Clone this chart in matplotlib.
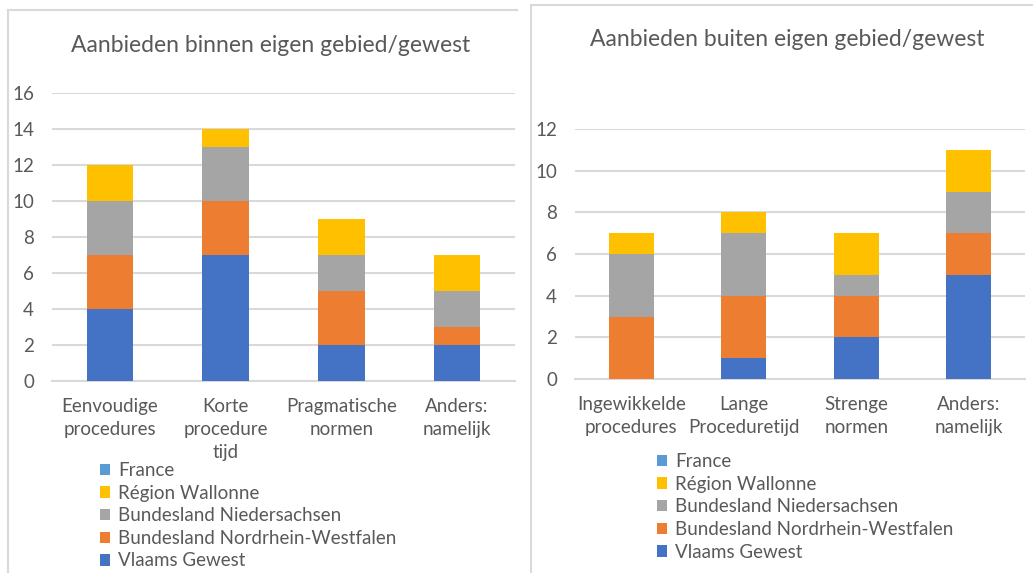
import matplotlib
matplotlib.use("Agg")
import matplotlib.pyplot as plt
from matplotlib.patches import Patch
from matplotlib.lines import Line2D
import numpy as np

plt.rcParams['font.family'] = ['Lato', 'DejaVu Sans']

series = ["Vlaams Gewest", "Bundesland Nordrhein-Westfalen", "Bundesland Niedersachsen",
          "Région Wallonne", "France"]
colors = ["#4472C4", "#ED7D31", "#A5A5A5", "#FFC000", "#5B9BD5"]

left_title = "Aanbieden binnen eigen gebied/gewest"
left_cats = ["Eenvoudige\nprocedures", "Korte\nprocedure\ntijd", "Pragmatische\nnormen", "Anders:\nnamelijk"]
left_vlaams = [4, 7, 2, 2]
left_nrw = [3, 3, 3, 1]
left_nieders = [3, 3, 2, 2]
left_wallonne = [2, 1, 2, 2]
left_france = [0, 0, 0, 0]

right_title = "Aanbieden buiten eigen gebied/gewest"
right_cats = ["Ingewikkelde\nprocedures", "Lange\nProceduretijd", "Strenge\nnormen", "Anders:\nnamelijk"]
right_vlaams = [0, 1, 2, 5]
right_nrw = [3, 3, 2, 2]
right_nieders = [3, 3, 1, 2]
right_wallonne = [1, 1, 2, 2]
right_france = [0, 0, 0, 0]

W, H = 1033, 573
fig = plt.figure(figsize=(W / 100, H / 100), dpi=100)
TXT = "#595959"
GRID = "#D9D9D9"

def fx(px):
    return px / W

def fy(py):
    return 1 - py / H

# panel borders
fig.add_artist(Line2D([fx(8), fx(517)], [fy(10), fy(10)], color=GRID, lw=1.5))
fig.add_artist(Line2D([fx(8), fx(8)], [fy(10), fy(573)], color=GRID, lw=1.5))
fig.add_artist(Line2D([fx(531), fx(1033)], [fy(5), fy(5)], color=GRID, lw=1.5))
fig.add_artist(Line2D([fx(531), fx(531)], [fy(5), fy(573)], color=GRID, lw=1.5))


def panel(x0, x1, ytop, ybot, ymax, cats, data, title, title_xy, legend_xy, ypad, xpad):
    ax = fig.add_axes([fx(x0), fy(ybot), fx(x1) - fx(x0), fy(ytop) - fy(ybot)])
    x = np.arange(len(cats))
    bottom = np.zeros(len(cats))
    for vals, c in zip(data, colors):
        v = np.array(vals, dtype=float)
        ax.bar(x, v, bottom=bottom, width=0.4, color=c, zorder=3)
        bottom += v
    ax.set_xlim(-0.5, len(cats) - 0.5)
    ax.set_ylim(0, ymax)
    ax.set_yticks(np.arange(0, ymax + 1, 2))
    ax.yaxis.grid(True, color=GRID, lw=1.5, zorder=0)
    ax.set_axisbelow(True)
    for s in ["top", "right", "left"]:
        ax.spines[s].set_visible(False)
    ax.spines["bottom"].set_color(GRID)
    ax.spines["bottom"].set_linewidth(1.5)
    ax.set_xticks(x)
    ax.set_xticklabels(cats)
    for t in ax.get_xticklabels():
        t.set_linespacing(1.45)
    ax.tick_params(axis="both", length=0, colors=TXT, labelsize=13.5)
    ax.tick_params(axis="y", pad=ypad)
    ax.tick_params(axis="x", pad=xpad)
    fig.text(fx(title_xy[0]), fy(title_xy[1]), title, ha="center", va="center",
             fontsize=16.5, color=TXT)
    handles = [Patch(facecolor=c) for c in colors][::-1]
    labels = series[::-1]
    fig.legend(handles, labels, loc="upper left",
               bbox_to_anchor=(fx(legend_xy[0]), fy(legend_xy[1])),
               frameon=False, fontsize=13.5, labelcolor=TXT,
               handlelength=0.55, handleheight=0.55, handletextpad=0.4,
               labelspacing=0.3, borderpad=0, borderaxespad=0)
    return ax

panel(52, 515, 93, 381, 16, left_cats,
      [left_vlaams, left_nrw, left_nieders, left_wallonne, left_france],
      left_title, (271, 45), (100, 462), 13, 12)
panel(575, 1025, 129, 379, 12, right_cats,
      [right_vlaams, right_nrw, right_nieders, right_wallonne, right_france],
      right_title, (787, 40), (657, 453), 13, 12)

fig.savefig("out.png", dpi=100)
